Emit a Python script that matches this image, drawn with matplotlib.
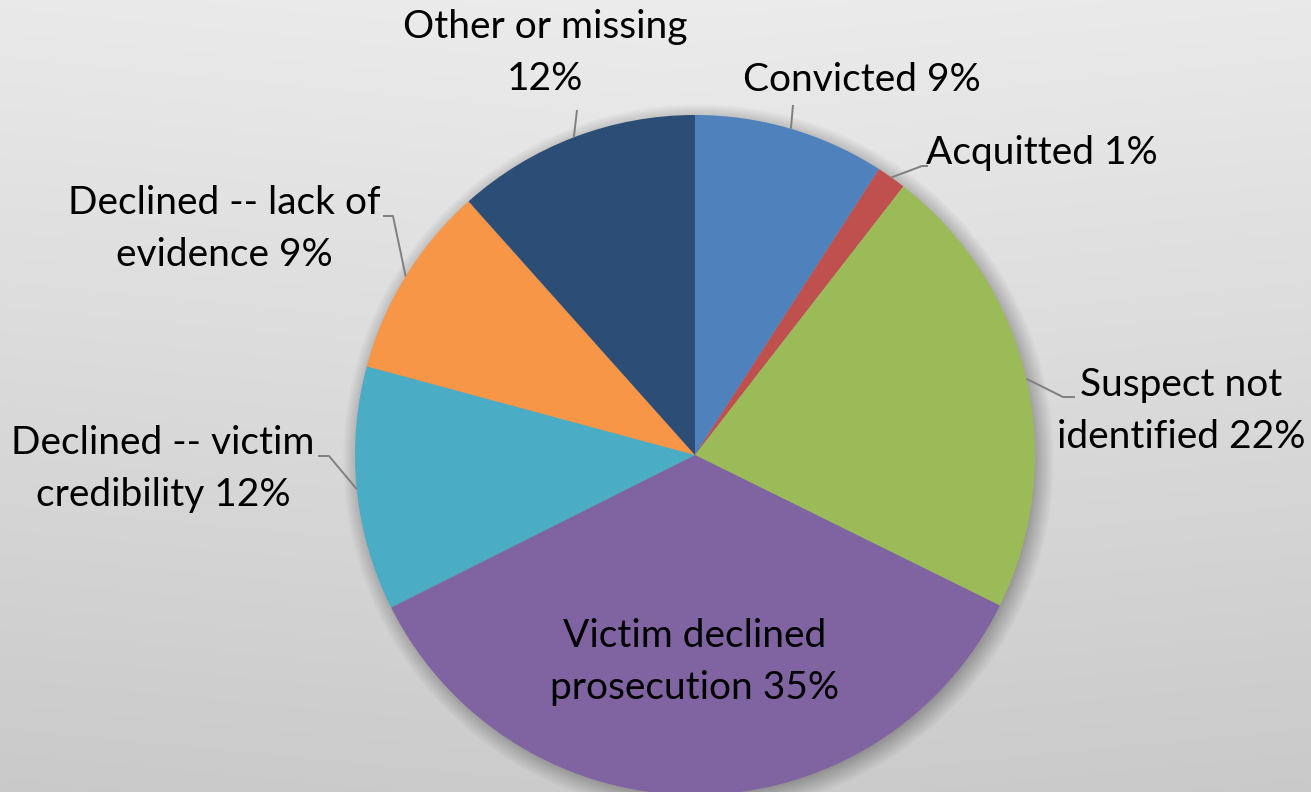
"""
plot.py
-------
Case outcomes pie chart (Office-style palette on a soft grey gradient).
"""

import numpy as np
import matplotlib
matplotlib.use("Agg")
import matplotlib.pyplot as plt

# ── Data ──────────────────────────────────────
outcomes = [
    "Convicted",
    "Acquitted",
    "Suspect not\nidentified",
    "Victim declined\nprosecution",
    "Declined -- victim\ncredibility",
    "Declined -- lack of\nevidence",
    "Other or missing\n",
]
shares = [9.1, 1.4, 21.8, 35.3, 11.6, 9.2, 11.6]

# ── Style ─────────────────────────────────────
COLORS = ["#4F81BD", "#C0504D", "#9BBB59", "#8064A2", "#4BACC6", "#F79646", "#2C4D75"]
LEADER = "#7F7F7F"
W, H = 1311, 792
CX, CY, R = 695, H - 455, 340

plt.rcParams["font.family"] = ["Lato", "DejaVu Sans"]

fig = plt.figure(figsize=(W / 100, H / 100), dpi=100)
ax = fig.add_axes([0, 0, 1, 1])

# y-up pixel grid (row 0 = bottom)
yy, xx = np.mgrid[0:H, 0:W]

# background: light grey, darker toward the bottom
bg = 0.80 + 0.125 * (yy / H) - 0.02 * np.abs(xx - W / 2) / W
ax.imshow(np.dstack([bg, bg, bg]), extent=(0, W, 0, H), origin="lower", zorder=0)

# soft shadow under the pie
d = np.hypot(xx - (CX + 3), yy - (CY - 5))
alpha = 0.3 * np.clip((R + 16 - d) / 22, 0, 1)
shadow = np.zeros((H, W, 4))
shadow[..., 3] = alpha
ax.imshow(shadow, extent=(0, W, 0, H), origin="lower", zorder=1)

wedges, _ = ax.pie(
    shares,
    colors=COLORS,
    startangle=90,
    counterclock=False,
    radius=R,
    center=(CX, CY),
    wedgeprops=dict(linewidth=0),
    frame=True,
)
for w in wedges:
    w.set_zorder(2)
ax.set_xlim(0, W)
ax.set_ylim(0, H)
ax.set_aspect("equal")
ax.axis("off")

labels = []
for name, v in zip(outcomes, shares):
    sep = "" if name.endswith("\n") else " "
    labels.append(f"{name}{sep}{v:.0f}%")

# label centre, then leader elbow/end points (pixel coords, y from top)
layout = [
    ((862, 80), [(793, 105)]),
    ((1042, 153), [(922, 166), (928, 166)]),
    ((1181, 411), [(1063, 397), (1075, 397)]),
    ((695, 662), None),
    ((163, 469), [(329, 456), (318, 456)]),
    ((224, 229), [(393, 216), (383, 216)]),
    ((545, 53), [(577, 110)]),
]

for w, text, (pos, leader) in zip(wedges, labels, layout):
    ang = np.deg2rad((w.theta1 + w.theta2) / 2)
    ex, ey = CX + R * np.cos(ang), CY + R * np.sin(ang)
    if leader:
        xs = [ex] + [p[0] for p in leader]
        ys = [ey] + [H - p[1] for p in leader]
        ax.plot(xs, ys, color=LEADER, lw=1.4, zorder=3, solid_capstyle="butt")
    ax.text(pos[0], H - pos[1], text, ha="center", va="center",
            fontsize=28, color="black", linespacing=1.55, zorder=4)

fig.savefig("out.png", dpi=100)
plt.close(fig)
